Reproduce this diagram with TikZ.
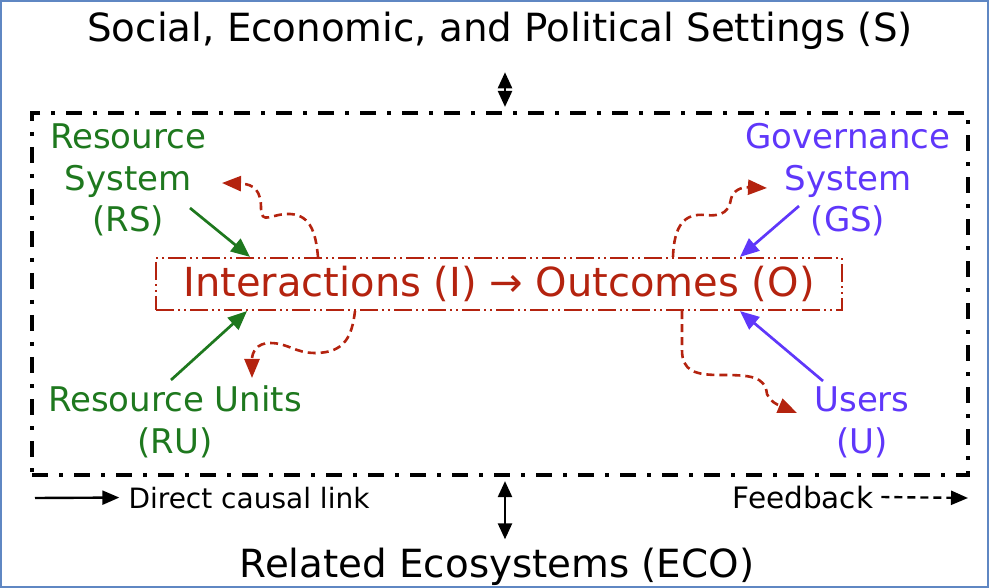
\documentclass[tikz,border=0pt]{standalone}
\usepackage{fontspec}
\setmainfont{DejaVu Sans}
\usetikzlibrary{arrows.meta}
\definecolor{grn}{RGB}{30,120,30}
\definecolor{blu}{RGB}{95,55,250}
\definecolor{rd}{RGB}{180,35,15}
\definecolor{framec}{RGB}{95,135,195}
\tikzset{
  outerbox/.style={draw=black, line width=4.2pt, dash pattern=on 16pt off 11pt on 4pt off 11pt, inner sep=0pt},
  interbox/.style={draw=rd, line width=2.2pt, dash pattern=on 18pt off 4pt on 2pt off 4pt on 2pt off 4pt, inner sep=0pt, text=rd, font=\fontsize{40}{46}\selectfont},
  bigtext/.style={inner sep=0pt, font=\fontsize{38.8}{46}\selectfont},
  sidetext/.style={inner sep=0pt, align=center, font=\fontsize{34}{41.5}\selectfont},
  legtext/.style={inner sep=0pt, font=\fontsize{28}{34}\selectfont},
  garrow/.style={draw=grn, line width=2.7pt, -{Triangle[length=19pt,width=16pt]}},
  barrow/.style={draw=blu, line width=2.7pt, -{Triangle[length=19pt,width=16pt]}},
  fbarrow/.style={draw=rd, line width=2.6pt, dash pattern=on 8pt off 5pt, -{Triangle[length=19pt,width=15pt]}},
  dblarrow/.style={draw=black, line width=2.4pt, {Triangle[length=16pt,width=14pt]}-{Triangle[length=16pt,width=14pt]}},
  legsolid/.style={draw=black, line width=2.4pt, -{Triangle[length=17pt,width=14pt]}},
  legdash/.style={draw=black, line width=2.4pt, dash pattern=on 8pt off 5pt, -{Triangle[length=17pt,width=14pt]}},
}
\begin{document}
\begin{tikzpicture}[x=1pt,y=-1pt]
\useasboundingbox (0,0) rectangle (989,588);
\draw[framec, line width=1.5pt] (1,1) rectangle (988,587);

% nodes
\node[bigtext, anchor=base] (title) at (500,42) {Social, Economic, and Political Settings (S)};
\node[outerbox, minimum width=936pt, minimum height=362pt] (sys) at (500,294) {};
\node[interbox, minimum width=686pt, minimum height=52pt] (inter) at (499,284) {Interactions (I) → Outcomes (O)};
\node[sidetext, anchor=base, text=grn] (rs) at (128,232) {Resource\\System\\(RS)};
\node[sidetext, anchor=base, text=blu] (gs) at (848,232) {Governance\\System\\(GS)};
\node[sidetext, anchor=base, text=grn] (ru) at (175,453) {Resource Units\\(RU)};
\node[sidetext, anchor=base, text=blu] (us) at (862,453) {Users\\(U)};
\node[legtext, anchor=base] (dcl) at (249,508) {Direct causal link};
\node[legtext, anchor=base, font=\fontsize{29.5}{34}\selectfont] (fbk) at (803,508) {Feedback};
\node[bigtext, anchor=base] (eco) at (497,577) {Related Ecosystems (ECO)};

% coordinates at the ends of the causal links
\coordinate (rsout) at (190,208);
\coordinate (gsout) at (799,206);
\coordinate (ruout) at (171,380);
\coordinate (usout) at (823,381);

% settings and ecosystems links
\draw[dblarrow] ([xshift=5pt,yshift=-22pt]title.south) -- ([xshift=5pt,yshift=4pt]sys.north);
\draw[dblarrow] ([xshift=5pt,yshift=-4pt]sys.south) -- ([xshift=8pt,yshift=8pt]eco.north);

% direct causal links
\draw[garrow] (rsout) -- (inter.north -| 250,0);
\draw[garrow] (ruout) -- (inter.south -| 247,0);
\draw[barrow] (gsout) -- (inter.north -| 740,0);
\draw[barrow] (usout) -- (inter.south -| 740,0);

% feedback
\draw[fbarrow] (inter.north -| 318,0) .. controls (316,236) and (312,215) .. (290,214)
  .. controls (272,213) and (261,226) .. (261,208)
  .. controls (261,192) and (255,184) .. (222,183);
\draw[fbarrow] (inter.south -| 355,0) .. controls (352,336) and (345,353) .. (315,353)
  .. controls (295,353) and (288,343) .. (270,343)
  .. controls (257,343) and (252,352) .. (252,378);
\draw[fbarrow] (inter.north -| 673,0) .. controls (674,226) and (684,213) .. (705,215)
  .. controls (724,217) and (729,210) .. (731,199)
  .. controls (733,190) and (742,187) .. (767,188);
\draw[fbarrow] (inter.south -| 682,0) -- (682,350)
  .. controls (682,371) and (695,375) .. (720,375)
  .. controls (750,375) and (765,376) .. (767,394)
  .. controls (769,401) and (778,405) .. (797,413);

% legend
\draw[legsolid] (35,498) -- ([xshift=-9pt]dcl.west);
\draw[legdash] ([xshift=8pt]fbk.east) -- (968,498);
\end{tikzpicture}
\end{document}
